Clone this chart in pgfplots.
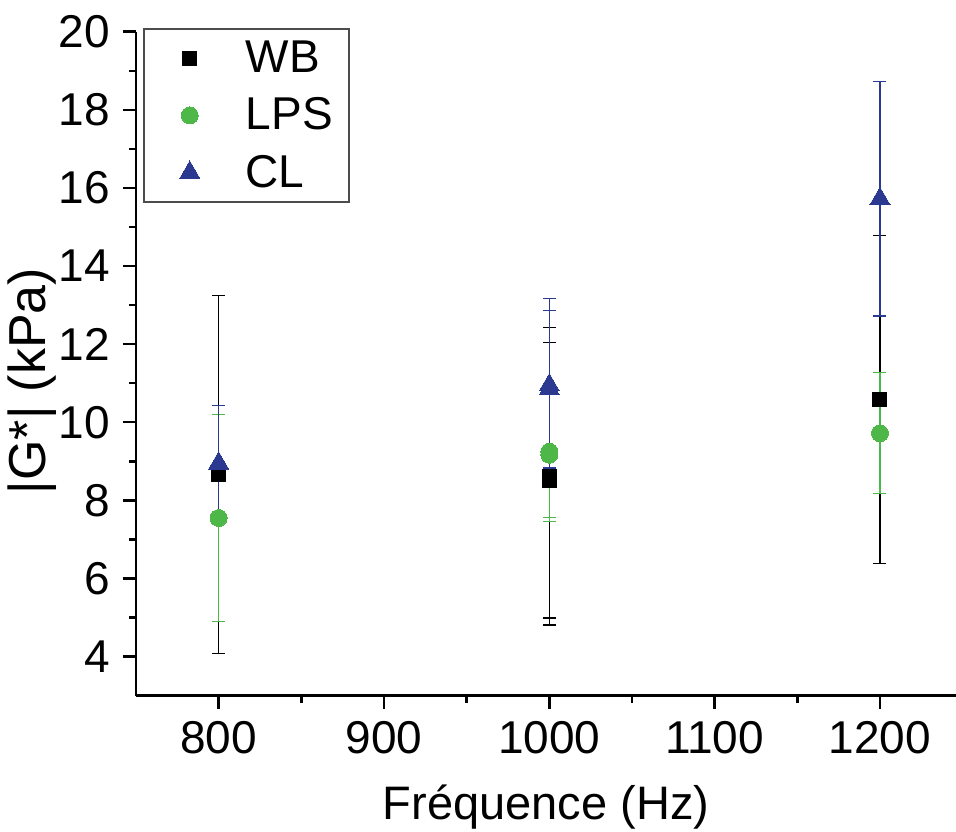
\documentclass[border=0pt]{standalone}
\usepackage{fontspec}
\setmainfont{Liberation Sans}
\usepackage{pgfplots}
\usepackage{pgfplotstable}
\pgfplotsset{compat=1.18}
\usetikzlibrary{calc}
\definecolor{wbc}{RGB}{0,0,0}
\definecolor{lpsc}{RGB}{77,184,72}
\definecolor{clc}{RGB}{43,57,144}

\pgfplotstableread{
x y e
800 8.67 4.58
1000 8.62 3.81
1000 8.52 3.53
1200 10.58 4.20
}\wbdata
\pgfplotstableread{
x y e
800 7.55 2.65
1000 9.25 1.68
1000 9.17 1.70
1200 9.72 1.55
}\lpsdata
\pgfplotstableread{
x y e
800 8.95 1.48
1000 10.95 2.21
1000 10.85 2.02
1200 15.72 3.00
}\cldata

\pgfplotsset{myleg/.style={legend image code/.code={\path[draw=none,fill=none] (0pt,-3pt) rectangle (34pt,3pt); \draw[mark repeat=2,mark phase=2,##1] plot coordinates {(0pt,0pt)(17pt,0pt)(34pt,0pt)};}}}

\begin{document}
\begin{tikzpicture}
\begin{axis}[
  scale only axis, width=410pt, height=332pt,
  xmin=750, xmax=1246, ymin=3, ymax=20,
  axis lines*=left,
  axis line style={line width=1.4pt, black},
  xtick={800,900,1000,1100,1200},
  ytick={4,6,8,10,12,14,16,18,20},
  minor x tick num=1, minor y tick num=1,
  tick align=outside,
  major tick length=6.5pt, minor tick length=3.5pt,
  tick style={line width=1.2pt, black},
  /pgf/number format/assume math mode=true,
  /pgf/number format/1000 sep={},
  tick label style={font=\fontsize{23}{23}\selectfont},
  xticklabel style={yshift=-3pt},
  yticklabel style={xshift=-3pt},
  xlabel={Fréquence (Hz)},
  ylabel={|G*| (kPa)},
  xlabel style={font=\fontsize{23.5}{23.5}\selectfont, at={(axis description cs:0.5,-0.187)}, anchor=base},
  ylabel style={font=\fontsize{26}{26}\selectfont, at={(axis description cs:-0.127,0.474)}, anchor=center},
  legend style={at={(axis description cs:0.0085,1.005)}, anchor=north west,
    draw=gray!60!black, line width=0.8pt, inner xsep=6pt, inner ysep=4pt,
    nodes={inner sep=2pt}, column sep=9pt, row sep=7pt,
    font=\fontsize{23}{23}\selectfont},
  legend cell align=left,
]
\coordinate (sw) at (rel axis cs:0,0);
\coordinate (ne) at (rel axis cs:1,1);
\addplot[color=wbc, only marks, myleg, mark=square*, mark size=3.5pt, mark options={fill=wbc, draw=wbc, line width=0pt},
  error bars/.cd, y dir=both, y explicit,
  error bar style={line width=0.6pt, wbc},
  error mark options={rotate=90, line width=0.6pt, mark size=3.25pt, wbc}]
  table[x=x, y=y, y error=e] {\wbdata};
\addlegendentry{WB}
\addplot[color=lpsc, only marks, myleg, mark=*, mark size=4.25pt, mark options={fill=lpsc, draw=lpsc, line width=0pt},
  error bars/.cd, y dir=both, y explicit,
  error bar style={line width=0.6pt, lpsc},
  error mark options={rotate=90, line width=0.6pt, mark size=3.25pt, lpsc}]
  table[x=x, y=y, y error=e] {\lpsdata};
\addlegendentry{LPS}
\addplot[color=clc, only marks, myleg, mark=triangle*, mark size=5.8pt, mark options={fill=clc, draw=clc, line width=0pt},
  error bars/.cd, y dir=both, y explicit,
  error bar style={line width=0.6pt, clc},
  error mark options={rotate=90, line width=0.6pt, mark size=3.25pt, clc}]
  table[x=x, y=y, y error=e] {\cldata};
\addlegendentry{CL}
\end{axis}
\pgfresetboundingbox
\path ($(sw)+(-68pt,-68.15pt)$) rectangle ($(ne)+(0pt,15.85pt)$);
\end{tikzpicture}
\end{document}
